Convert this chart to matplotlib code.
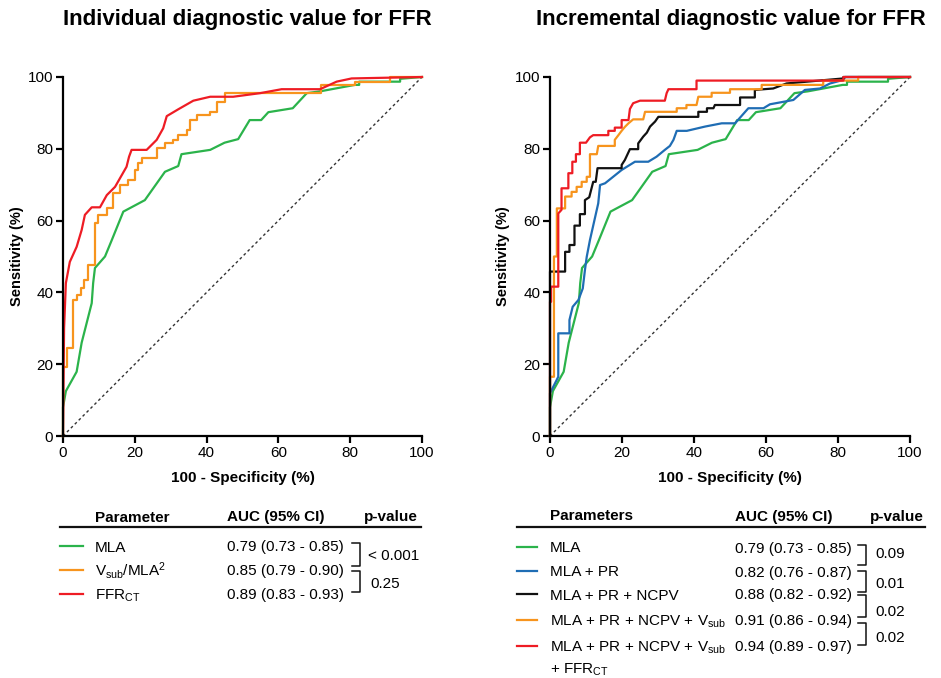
import numpy as np
import matplotlib
matplotlib.use("Agg")
import matplotlib.pyplot as plt
from matplotlib.lines import Line2D

plt.rcParams['font.family'] = ['Liberation Sans', 'DejaVu Sans']
plt.rcParams['mathtext.fontset'] = 'custom'
plt.rcParams['mathtext.rm'] = 'Liberation Sans'
plt.rcParams['mathtext.it'] = 'Liberation Sans:italic'
plt.rcParams['mathtext.bf'] = 'Liberation Sans:bold'

# ROC curves: (100 - specificity, sensitivity) in %
mla_x = [0, 0, 0.8, 3.8, 5.2, 8, 8.4, 8.9, 11.7, 13.6, 16.8, 22.8, 28.4, 32.1, 33, 41, 45, 48.8,
         52, 55.2, 57.2, 64, 67.9, 71.6, 81.3, 82.5, 82.5, 93.9, 93.9, 100]
mla_y = [0, 8, 12.5, 17.9, 26, 37, 42.6, 46.8, 50, 54.6, 62.5, 65.7, 73.6, 75.2, 78.5, 79.7, 81.7, 82.7,
         88, 88, 90.2, 91.3, 95.5, 96, 97.8, 97.8, 98.7, 98.7, 99.5, 100]

vsub_x = [0, 0, 1, 1, 2.7, 2.7, 2.9, 2.9, 3.8, 3.8, 4.9, 4.9, 5.8, 5.8, 7, 7, 8.9, 8.9, 9.8, 9.8,
          12.2, 12.2, 14, 14, 15.9, 15.9, 18.2, 18.2, 20, 20, 21, 21, 21.9, 21.9, 26.1, 26.1, 28.4, 28.4,
          30.7, 30.7, 32.1, 32.1, 34.5, 34.5, 35.4, 35.4, 37.2, 37.2, 41, 41, 42.8, 42.8, 45.1, 45.1,
          72, 72, 81.3, 81.3, 91, 91, 100]
vsub_y = [0, 19.3, 19.3, 24.4, 24.4, 26.7, 26.7, 37.9, 37.9, 39.3, 39.3, 41.2, 41.2, 43.4, 43.4, 47.6,
          47.6, 59.2, 59.2, 61.5, 61.5, 63.5, 63.5, 67.6, 67.6, 69.9, 69.9, 71.3, 71.3, 74.1, 74.1, 76,
          76, 77.4, 77.4, 80.2, 80.2, 81.5, 81.5, 82.5, 82.5, 83.8, 83.8, 85.2, 85.2, 88, 88, 89.4, 89.4,
          90.3, 90.3, 93.1, 93.1, 95.5, 95.5, 97.8, 97.8, 98.7, 98.7, 100, 100]

ffr_x = [0, 0.3, 0.8, 1.9, 3.8, 5.2, 6.1, 8, 10.3, 12.2, 14.5, 17.7, 18.4, 19.1, 23.3, 26.1, 27.9,
         28.9, 32.1, 36.3, 41, 47.4, 54.9, 60.9, 71.6, 76.2, 80.4, 100]
ffr_y = [0, 30, 42.6, 48.5, 52.7, 57.4, 61.6, 63.7, 63.7, 67.1, 69.4, 75, 77.8, 79.7, 79.7, 82.5, 85.7,
         89.1, 91, 93.4, 94.5, 94.5, 95.5, 96.6, 96.6, 98.7, 99.6, 100]

pr_x = [0, 0, 2.3, 2.3, 5.4, 5.4, 6.3, 7.9, 9.1, 9.7, 10.2, 11.1, 13.4, 13.9, 15.3, 19.9, 23.6, 27.3,
        29.6, 31.9, 33.3, 34.3, 35.2, 38, 43.1, 47.7, 51.4, 55.1, 59.3, 61.1, 67.6, 70.8, 75, 77.8,
        81.5, 82, 100]
pr_y = [0, 11.9, 16.5, 28.6, 28.6, 32.3, 36, 37.9, 41.1, 46.2, 49.9, 54.6, 64.8, 69.9, 70.4, 74.1, 76.4,
        76.4, 77.8, 79.7, 80.8, 82.5, 85, 85, 86.2, 87.1, 87.1, 91.3, 91.3, 92.4, 93.6, 96.4, 96.8, 98.2,
        99.2, 100, 100]

ncpv_x = [0, 0, 4.2, 4.2, 5.4, 5.4, 6.8, 6.8, 8.3, 8.3, 9.7, 9.7, 10.9, 12, 12.7, 13.2, 19.9, 19.9,
          20.8, 22.2, 24.5, 24.5, 25.9, 26.9, 27.8, 29.2, 30.1, 41.2, 41.2, 43.6, 43.6, 45.4, 45.8,
          52.8, 52.8, 56.9, 56.9, 62, 65.7, 81.5, 81.5, 100]
ncpv_y = [0, 45.8, 45.8, 51.3, 51.3, 53.2, 53.2, 58.6, 58.6, 61.8, 61.8, 65.7, 66.5, 70.8, 70.8, 74.6,
          74.6, 75.5, 76.9, 79.9, 79.9, 81.5, 83.4, 84.5, 86.2, 87.6, 88.9, 88.9, 90.3, 90.3, 91.3, 91.3,
          92.2, 92.2, 94.3, 94.3, 96.4, 96.8, 98.2, 99.6, 100, 100]

vsub4_x = [0, 0, 1.1, 1.1, 1.9, 1.9, 4.2, 4.2, 6, 6, 7.4, 7.4, 8.8, 8.8, 10.2, 10.2, 11.1, 11.1, 13,
           13.4, 18, 18, 19, 19.9, 20.8, 21.8, 23.1, 25.9, 26.4, 35.2, 35.2, 37.9, 37.9, 40.7, 41.2,
           44.9, 44.9, 50, 50, 58.8, 58.8, 75.9, 75.9, 85.6, 85.6, 100]
vsub4_y = [0, 16.5, 16.5, 50, 50, 63.4, 63.4, 66.7, 66.7, 68, 68, 69.4, 69.4, 70.8, 70.8, 72.2, 72.2,
           78.5, 78.5, 80.8, 80.8, 82.5, 83.8, 85, 86.1, 87.1, 88.2, 88.2, 90.3, 90.3, 91.3, 91.3, 92.2,
           92.2, 94.5, 94.5, 95.6, 95.6, 96.6, 96.6, 97.8, 97.8, 99, 99, 100, 100]

all_x = [0, 0, 0.3, 0.3, 2.3, 2.3, 3.2, 3.2, 5.1, 5.1, 6.2, 6.2, 7.2, 7.2, 8.3, 8.3, 10, 11.1, 12,
         16.2, 16.2, 18, 18, 19.9, 19.9, 21.8, 22.2, 23.1, 25, 31.9, 32.4, 32.9, 40.7, 40.7, 81.5,
         81.5, 100]
all_y = [0, 37.4, 37.4, 41.6, 41.6, 62, 63, 69, 69, 73.2, 73.2, 76.4, 76.4, 78.5, 78.5, 81.7, 81.7,
         83.2, 83.8, 83.8, 85, 85, 85.9, 85.9, 88, 88, 91.1, 92.7, 93.4, 93.4, 95.5, 96.6, 96.6, 99, 99,
         100, 100]

green = '#2BB34B'
orange = '#F7941D'
red = '#EE1C24'
blue = '#1F6DB4'
black = '#111111'

W, H = 941, 678
fig = plt.figure(figsize=(W / 100, H / 100), dpi=100)


def fx(px):
    return px / W


def fy(py):
    return 1 - py / H


def setup(ax):
    ax.set_xlim(0, 100)
    ax.set_ylim(0, 100)
    for s in ['top', 'right']:
        ax.spines[s].set_visible(False)
    for s in ['left', 'bottom']:
        ax.spines[s].set_linewidth(1.6)
    ax.set_xticks(range(0, 101, 20))
    ax.set_yticks(range(0, 101, 20))
    ax.tick_params(direction='out', length=5, width=1.6, labelsize=11, pad=2)
    ax.plot([0, 100], [0, 100], color='#333333', lw=1, ls=(0, (2, 2)))
    ax.set_xlabel('100 - Specificity (%)', fontsize=11, fontweight='bold')
    ax.set_ylabel('Sensitivity (%)', fontsize=10.5, fontweight='bold')
    ax.xaxis.set_label_coords(0.5, -0.0975)
    ax.yaxis.set_label_coords(-0.110, 0.5)


ax1 = fig.add_axes([fx(63), fy(436), fx(422) - fx(63), fy(77) - fy(436)])
ax2 = fig.add_axes([fx(550), fy(436), fx(910) - fx(550), fy(77) - fy(436)])
setup(ax1)
setup(ax2)

lw = 1.6
ax1.plot(mla_x, mla_y, color=green, lw=lw, clip_on=False)
ax1.plot(vsub_x, vsub_y, color=orange, lw=lw, clip_on=False)
ax1.plot(ffr_x, ffr_y, color=red, lw=lw, clip_on=False)

ax2.plot(mla_x, mla_y, color=green, lw=lw, clip_on=False)
ax2.plot(pr_x, pr_y, color=blue, lw=lw, clip_on=False)
ax2.plot(ncpv_x, ncpv_y, color=black, lw=lw, clip_on=False)
ax2.plot(vsub4_x, vsub4_y, color=orange, lw=lw, clip_on=False)
ax2.plot(all_x, all_y, color=red, lw=lw, clip_on=False)

fig.text(fx(247), fy(19), 'Individual diagnostic value for FFR', fontsize=16,
         fontweight='bold', ha='center', va='center')
fig.text(fx(731), fy(19), 'Incremental diagnostic value for FFR', fontsize=16,
         fontweight='bold', ha='center', va='center')


# tables below the plots
def hline(x0, x1, y, color, width):
    fig.add_artist(Line2D([fx(x0), fx(x1)], [fy(y), fy(y)], color=color, lw=width))


def bracket(x0, x1, y0, y1):
    fig.add_artist(Line2D([fx(x0), fx(x1), fx(x1), fx(x0)], [fy(y0), fy(y0), fy(y1), fy(y1)],
                          color=black, lw=1.1))


def txt(x, y, s, bold=False):
    fig.text(fx(x), fy(y + 5.5), s, fontsize=11, fontweight='bold' if bold else 'normal',
             ha='left', va='baseline')


left_names = ['MLA', r'V$_{\mathrm{sub}}$/MLA$^{2}$', r'FFR$_{\mathrm{CT}}$']
left_auc = ['0.79 (0.73 - 0.85)', '0.85 (0.79 - 0.90)', '0.89 (0.83 - 0.93)']
left_colors = [green, orange, red]
left_rows = [546, 570, 594]

txt(95, 516, 'Parameter', True)
txt(227, 516, 'AUC (95% CI)', True)
txt(364, 516, 'p-value', True)
hline(60, 421, 527, black, 1.6)
for name, auc, c, y in zip(left_names, left_auc, left_colors, left_rows):
    hline(60, 83, y, c, 1.6)
    txt(95, y, name)
    txt(227, y, auc)
bracket(352, 360, 543, 566)
bracket(352, 360, 571, 592)
txt(368, 555, '< 0.001')
txt(370, 582, '0.25')

right_names = ['MLA', 'MLA + PR', 'MLA + PR + NCPV', r'MLA + PR + NCPV + V$_{\mathrm{sub}}$',
               r'MLA + PR + NCPV + V$_{\mathrm{sub}}$']
right_auc = ['0.79 (0.73 - 0.85)', '0.82 (0.76 - 0.87)', '0.88 (0.82 - 0.92)',
             '0.91 (0.86 - 0.94)', '0.94 (0.89 - 0.97)']
right_colors = [green, blue, black, orange, red]
right_rows = [547, 571, 594, 620, 646]
right_p = ['0.09', '0.01', '0.02', '0.02']
right_p_rows = [553, 583, 610, 637]

txt(550, 515, 'Parameters', True)
txt(735, 515, 'AUC (95% CI)', True)
txt(870, 515, 'p-value', True)
hline(517, 925, 527, black, 1.6)
for name, auc, c, y in zip(right_names, right_auc, right_colors, right_rows):
    hline(517, 537, y, c, 1.6)
    txt(550, y, name)
    txt(735, y, auc)
txt(550, 668, r'+ FFR$_{\mathrm{CT}}$')
for (y0, y1) in [(545, 565), (571, 592), (595, 617), (623, 645)]:
    bracket(858, 866, y0, y1)
for p, y in zip(right_p, right_p_rows):
    txt(875, y, p)

fig.savefig('out.png', dpi=100)
